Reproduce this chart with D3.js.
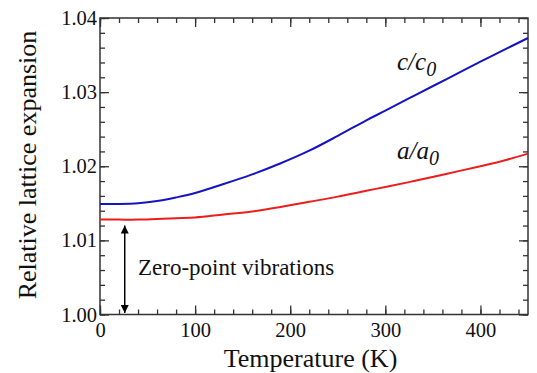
<!DOCTYPE html>
<html>
  <head>
    <meta charset="utf-8">
    <title>Relative lattice expansion</title>
    <script src="https://d3js.org/d3.v7.min.js"></script>
    <style>
      body {
        margin: 0;
        background: #fff;
      }

      svg text {
        font-family: "Liberation Serif", "DejaVu Serif", "Times New Roman", Times, serif;
        fill: #111;
      }

      .tick line {
        stroke: #333;
        stroke-width: 1.3;
      }

      .tick text {
        font-size: 20.5px;
      }

      .frame {
        fill: none;
        stroke: #333;
        stroke-width: 1.5;
      }

      .curve {
        fill: none;
        stroke-width: 2;
      }
    </style>
  </head>
  <body>
    <svg width="537" height="373"></svg>
    <script>
      // values
      var temperature = [0, 20, 40, 60, 80, 100, 130, 160, 190, 220, 250, 280, 300, 330, 365, 400, 420, 450];
      var cRatio = [1.0149, 1.0149, 1.0150, 1.0153, 1.0158, 1.0164, 1.0176, 1.0189, 1.0204, 1.0221, 1.0241, 1.0262, 1.0275, 1.0295, 1.0318, 1.0341, 1.0354, 1.0373];
      var aRatio = [1.0128, 1.0128, 1.0128, 1.0129, 1.0130, 1.0131, 1.0135, 1.0139, 1.0145, 1.0152, 1.0159, 1.0167, 1.0172, 1.0180, 1.0190, 1.0200, 1.0206, 1.0217];

      var xMajor = [0, 100, 200, 300, 400];
      var xMinor = d3.range(0, 451, 20);
      var yMajor = [1.00, 1.01, 1.02, 1.03, 1.04];
      var yMinor = d3.range(0, 21).map(function(i) { return 1 + i * 0.002; });

      // zero-point arrow: temperature, bottom, top
      var arrowT = 26, arrowFrom = 1.0002, arrowTo = 1.0120;

      var margin = {top: 18, right: 9, bottom: 58.5, left: 100},
          width = 537 - margin.left - margin.right,
          height = 373 - margin.top - margin.bottom;

      var svg = d3.select("svg");
      var g = svg.append("g")
          .attr("transform", "translate(" + margin.left + "," + margin.top + ")");

      var x = d3.scaleLinear().domain([0, 450]).range([0, width]);
      var y = d3.scaleLinear().domain([1.00, 1.04]).range([height, 0]);

      function ticks(axis, values, size, labels) {
        return axis.tickValues(values).tickSize(size).tickSizeOuter(0)
            .tickFormat(labels ? labels : "");
      }

      // minor ticks on all four sides
      g.append("g").attr("transform", "translate(0," + height + ")")
          .call(ticks(d3.axisBottom(x), xMinor, -5));
      g.append("g").call(ticks(d3.axisTop(x), xMinor, -5));
      g.append("g").call(ticks(d3.axisLeft(y), yMinor, -5));
      g.append("g").attr("transform", "translate(" + width + ",0)")
          .call(ticks(d3.axisRight(y), yMinor, -5));

      // major ticks
      g.append("g").attr("class", "axis-x").attr("transform", "translate(0," + height + ")")
          .call(ticks(d3.axisBottom(x), xMajor, -9, d3.format("d")))
          .call(function(s) { s.selectAll("text").attr("y", 8).attr("dy", "0.71em"); });
      g.append("g").call(ticks(d3.axisTop(x), xMajor, -9));
      g.append("g").attr("class", "axis-y")
          .call(ticks(d3.axisLeft(y), yMajor, -9, d3.format(".2f")))
          .call(function(s) { s.selectAll("text").attr("x", -3); });
      g.append("g").attr("transform", "translate(" + width + ",0)")
          .call(ticks(d3.axisRight(y), yMajor, -9));

      g.selectAll(".domain").remove();
      g.selectAll("g").attr("font-family", null);

      g.append("rect").attr("class", "frame")
          .attr("width", width).attr("height", height);

      var line = d3.line()
          .x(function(d) { return x(d[0]); })
          .y(function(d) { return y(d[1]); })
          .curve(d3.curveCatmullRom);

      g.append("path").attr("class", "curve")
          .attr("stroke", "#1414c4")
          .attr("d", line(d3.zip(temperature, cRatio)));

      g.append("path").attr("class", "curve")
          .attr("stroke", "#ee1c1c")
          .attr("d", line(d3.zip(temperature, aRatio)));

      // arrow
      svg.append("defs").append("marker")
          .attr("id", "head")
          .attr("viewBox", "0 0 10 10")
          .attr("refX", 10).attr("refY", 5)
          .attr("markerWidth", 10).attr("markerHeight", 8)
          .attr("markerUnits", "userSpaceOnUse")
          .attr("orient", "auto-start-reverse")
        .append("path")
          .attr("d", "M0,0L10,5L0,10Z")
          .attr("fill", "#000");

      g.append("line")
          .attr("x1", x(arrowT)).attr("x2", x(arrowT))
          .attr("y1", y(arrowFrom)).attr("y2", y(arrowTo))
          .attr("stroke", "#000").attr("stroke-width", 1.5)
          .attr("marker-start", "url(#head)")
          .attr("marker-end", "url(#head)");

      g.append("text")
          .attr("x", 38).attr("y", 257)
          .style("font-size", "23px")
          .text("Zero-point vibrations");

      // curve labels
      function ratioLabel(letter, px, py) {
        var t = g.append("text")
            .attr("x", px).attr("y", py)
            .style("font-size", "25px")
            .style("font-style", "italic");
        t.append("tspan").text(letter + "/" + letter);
        t.append("tspan").attr("dy", 6).style("font-size", "20px").text("0");
      }
      ratioLabel("c", 297, 52);
      ratioLabel("a", 297, 141);

      // axis titles
      svg.append("text")
          .attr("x", 310.5).attr("y", 367)
          .attr("text-anchor", "middle")
          .style("font-size", "26px")
          .text("Temperature (K)");

      svg.append("text")
          .attr("transform", "translate(36,165) rotate(-90)")
          .attr("text-anchor", "middle")
          .style("font-size", "26px")
          .text("Relative lattice expansion");
    </script>
  </body>
</html>
